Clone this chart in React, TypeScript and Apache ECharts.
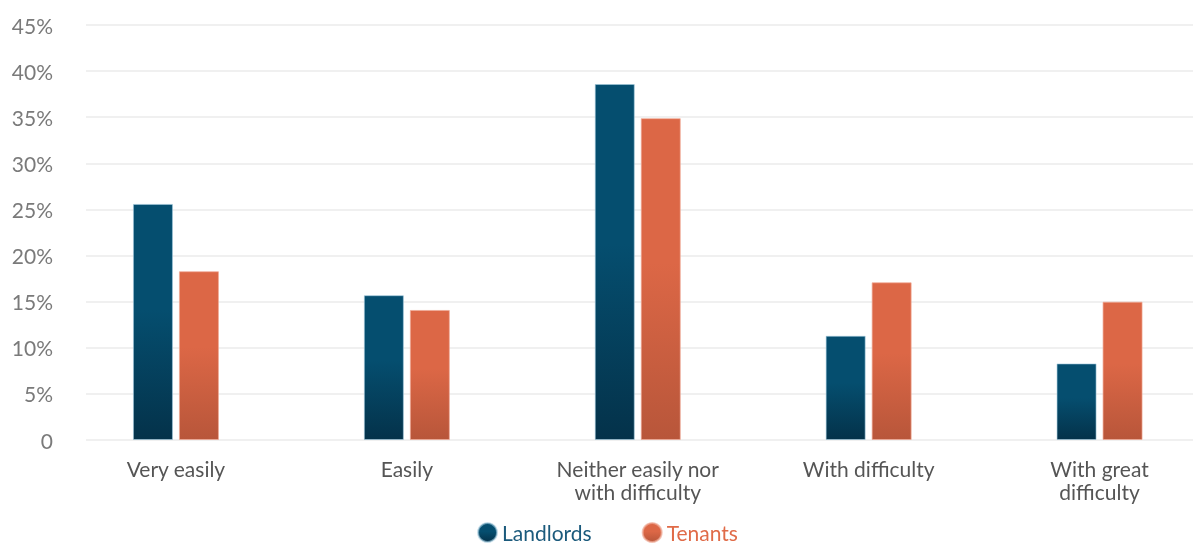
import React, { useEffect, useRef } from "react";
import * as echarts from "echarts";

const categories = ["Very easily", "Easily", "Neither easily nor\nwith difficulty", "With difficulty", "With great\ndifficulty"];
const landlords = [25.6, 15.7, 38.6, 11.3, 8.3];
const tenants = [18.3, 14.1, 34.9, 17.1, 15.0];
const seriesNames = ["Landlords", "Tenants"];

const FONT = "Lato, 'Noto Sans', sans-serif";

export default function App() {
  const ref = useRef<HTMLDivElement>(null);
  useEffect(() => {
    if (!ref.current) return;
    const chart = echarts.init(ref.current, undefined, { renderer: "svg" });
    const grad = (top: string, mid: string, bottom: string) =>
      new echarts.graphic.LinearGradient(0, 0, 0, 1, [
        { offset: 0, color: top },
        { offset: 0.45, color: mid },
        { offset: 1, color: bottom },
      ]);
    chart.setOption({
      animation: false,
      textStyle: { fontFamily: FONT },
      grid: [
        { left: 86, right: 22, top: 25, bottom: 106 },
        { left: 60.5, right: 0, top: 25, bottom: 106 },
      ],
      xAxis: [
        { type: "category", gridIndex: 0, data: categories, show: false },
        {
          type: "category",
          gridIndex: 1,
          data: categories,
          axisLine: { show: false },
          axisTick: { show: false },
          axisLabel: { color: "#555", fontSize: 21, fontFamily: FONT, lineHeight: 23, margin: 17 },
        },
      ],
      yAxis: [
        {
          type: "value",
          gridIndex: 0,
          min: 0,
          max: 45,
          interval: 5,
          axisLine: { show: false },
          axisTick: { show: false },
          splitLine: { lineStyle: { color: "#ebebeb", width: 1.5 } },
          axisLabel: {
            color: "#7a7a7a",
            fontSize: 21,
            fontFamily: FONT,
            margin: 33,
            formatter: (v: number) => (v === 0 ? "0" : v + "%"),
          },
        },
        { type: "value", gridIndex: 1, min: 0, max: 45, interval: 5, show: false, splitLine: { show: false } },
      ],
      legend: {
        top: 522,
        padding: 0,
        left: "center",
        icon: "circle",
        itemWidth: 19,
        itemHeight: 19,
        itemGap: 50,
        textStyle: { fontSize: 21, lineHeight: 21, fontFamily: FONT },
        data: [
          { name: seriesNames[0], textStyle: { color: "#1b5a7c" } },
          { name: seriesNames[1], textStyle: { color: "#e06b48" } },
        ],
      },
      series: [
        {
          name: seriesNames[0],
          type: "bar",
          xAxisIndex: 1,
          yAxisIndex: 1,
          data: landlords,
          barWidth: 40,
          barGap: "15%",
          itemStyle: {
            color: grad("#054e6f", "#054e6f", "#04324a"),
            borderColor: "rgba(160,200,220,0.6)",
            borderWidth: 1,
          },
        },
        {
          name: seriesNames[1],
          type: "bar",
          xAxisIndex: 1,
          yAxisIndex: 1,
          data: tenants,
          barWidth: 40,
          barGap: "15%",
          itemStyle: {
            color: grad("#dc6746", "#dc6746", "#b8563a"),
            borderColor: "rgba(240,170,150,0.7)",
            borderWidth: 1,
          },
        },
      ],
    });
    return () => chart.dispose();
  }, []);
  return (
    <div style={{ position: "fixed", left: 0, top: 0, width: 1193, height: 546, overflow: "hidden" }}>
      <div ref={ref} style={{ width: 1215, height: 546 }} />
    </div>
  );
}
